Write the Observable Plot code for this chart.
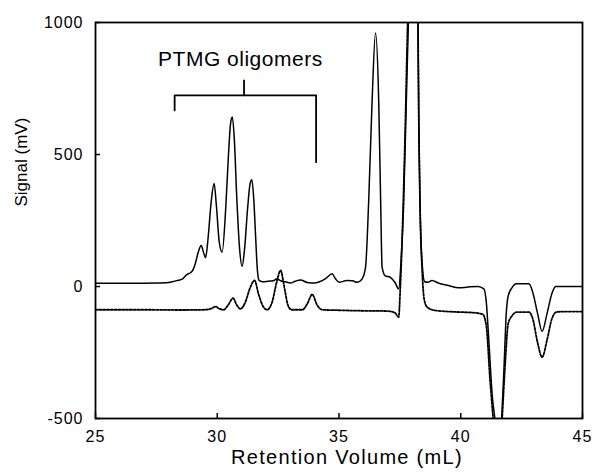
<!DOCTYPE html>
<html>
<head>
<meta charset="utf-8">
<script src="https://cdn.jsdelivr.net/npm/d3@7"></script>
<script src="https://cdn.jsdelivr.net/npm/@observablehq/plot@0.6"></script>
<style>
  html, body { margin: 0; padding: 0; background: white; }
</style>
</head>
<body>
<div id="chart"></div>
<script>
// ---- Data ----
const solidX = [25, 26.5, 27.5, 28.0, 28.2, 28.4, 28.56, 28.75, 28.9, 29.0, 29.1, 29.22, 29.34, 29.45, 29.52, 29.62, 29.75, 29.87, 29.97, 30.08, 30.2, 30.35, 30.45, 30.55, 30.62, 30.7, 30.8, 30.92, 31.02, 31.12, 31.25, 31.35, 31.42, 31.5, 31.57, 31.65, 31.72, 31.85, 32.1, 32.3, 32.45, 32.6, 32.8, 33.0, 33.2, 33.42, 33.7, 33.97, 34.2, 34.45, 34.72, 34.85, 35.0, 35.33, 35.55, 35.74, 35.95, 36.09, 36.22, 36.36, 36.5, 36.63, 36.71, 36.77, 36.9, 37.1, 37.3, 37.45, 37.55, 37.65, 37.75, 37.85, 38.05, 38.24, 38.28, 38.33, 38.42, 38.52, 38.65, 38.82, 39.1, 39.5, 39.9, 40.3, 40.7, 40.95, 41.05, 41.15, 41.3, 41.4, 41.55, 41.68, 41.78, 41.87, 41.95, 42.1, 42.3, 42.8, 42.95, 43.15, 43.34, 43.55, 43.75, 43.9, 44.5, 45];
const solidY = [12, 12, 13, 15, 19, 24, 28, 45, 52, 62, 87, 130, 155, 125, 109, 180, 320, 390, 300, 170, 130, 300, 480, 620, 642, 560, 340, 140, 76, 140, 300, 390, 404, 330, 200, 60, 23, 18, 20, 22, 29, 22, 18, 13, 20, 25, 15, 13, 18, 30, 48, 30, 16, 23, 22, 16, 29, 73, 326, 705, 960, 705, 326, 73, 40, 35, 15, -9, 100, 300, 650, 1000, 1400, 1000, 600, 300, 80, 18, 16, 23, 12, 4, -5, -2, 0, -9, -60, -200, -420, -500, -650, -500, -300, -100, -35, -5, 10, 10, -20, -100, -170, -100, -25, 0, 0, 0];

const dottedX = [25, 27, 28.5, 29.5, 29.75, 29.93, 30.08, 30.26, 30.45, 30.65, 30.8, 30.95, 31.15, 31.35, 31.53, 31.7, 31.88, 32.05, 32.25, 32.45, 32.6, 32.75, 32.9, 33.05, 33.5, 33.7, 33.9, 34.1, 34.3, 35.0, 36.0, 37.0, 37.3, 37.45, 37.52, 37.62, 37.72, 37.82, 38.03, 38.24, 38.28, 38.33, 38.42, 38.5, 38.62, 38.9, 39.5, 40.0, 40.5, 40.9, 41.05, 41.2, 41.35, 41.55, 41.7, 41.82, 41.95, 42.1, 42.3, 42.8, 42.95, 43.15, 43.34, 43.55, 43.75, 43.95, 44.5, 45];
const dottedY = [-88, -88, -89, -88, -84, -76, -84, -88, -70, -44, -70, -85, -60, -5, 23, -30, -75, -88, -60, 20, 61, 0, -70, -88, -88, -65, -30, -70, -88, -90, -92, -93, -100, -116, 0, 260, 600, 1000, 1400, 1000, 600, 300, 50, -50, -78, -90, -95, -97, -99, -105, -150, -350, -520, -700, -500, -300, -140, -112, -97, -97, -120, -210, -268, -200, -120, -96, -95, -95];

const xTicks = [25, 30, 35, 40, 45];
const xTickLabels = ["25", "30", "35", "40", "45"];
const yTicks = [-500, 0, 500, 1000];
const yTickLabels = ["-500", "0", "500", "1000"];

const xTitle = "Retention Volume (mL)";
const yTitle = "Signal (mV)";
const annotationText = "PTMG oligomers";
const annotationX = 30.95;
const annotationY = 834;
// bracket under the annotation (data units)
const bracketX = [28.25, 28.25, 34.06, 34.06];
const bracketY = [667, 724, 724, 471];
const bracketTickX = [31.1, 31.1];
const bracketTickY = [724, 781];

// ---- Build tables ----
const solid = solidX.map((x, i) => ({x, y: solidY[i]}));
const dotted = dottedX.map((x, i) => ({x, y: dottedY[i]}));
const bracket = bracketX.map((x, i) => ({x, y: bracketY[i]}));
const bracketTick = bracketTickX.map((x, i) => ({x, y: bracketTickY[i]}));

const chart = Plot.plot({
  width: 595,
  height: 476,
  marginLeft: 95,
  marginRight: 13,
  marginTop: 22,
  marginBottom: 58,
  style: {fontFamily: "'Liberation Sans', Arial, Helvetica, sans-serif", background: "white", color: "black"},
  x: {domain: [25, 45]},
  y: {domain: [-500, 1000]},
  marks: [
    Plot.axisX({ticks: xTicks, tickFormat: (d, i) => xTickLabels[xTicks.indexOf(d)], tickSize: -5, tickPadding: 17, fontSize: 16, strokeWidth: 1.5, label: null}),
    Plot.axisY({ticks: yTicks, tickFormat: (d) => yTickLabels[yTicks.indexOf(d)], tickSize: -5, tickPadding: 17, fontSize: 16, strokeWidth: 1.5, label: null}),
    Plot.line(dotted, {x: "x", y: "y", curve: "monotone-x", stroke: "black", strokeWidth: 1.8, strokeDasharray: "2.2,1.6", clip: true}),
    Plot.line(solid, {x: "x", y: "y", curve: "monotone-x", stroke: "black", strokeWidth: 1.5, clip: true}),
    Plot.line(bracket, {x: "x", y: "y", stroke: "black", strokeWidth: 1.8}),
    Plot.line(bracketTick, {x: "x", y: "y", stroke: "black", strokeWidth: 1.8}),
    Plot.text([annotationText], {x: annotationX, y: annotationY, text: d => d, fontSize: 21, lineAnchor: "bottom", textAnchor: "middle", fill: "black"}),
    Plot.text([xTitle], {frameAnchor: "bottom", text: d => d, dx: 8, dy: 45.7, fontSize: 20, fill: "black"}),
    Plot.text([yTitle], {frameAnchor: "left", text: d => d, rotate: -90, dx: -73.7, dy: -14, fontSize: 17, fill: "black"}),
    Plot.frame({stroke: "black", strokeWidth: 1.8})
  ]
});

// letter spacing to match the wider scanned type
d3.select(chart).selectAll("text").each(function() {
  const t = this.textContent;
  if (t === xTitle) this.setAttribute("letter-spacing", "1.3");
  else if (t === annotationText) this.setAttribute("letter-spacing", "0.5");
  else if (xTickLabels.includes(t) || yTickLabels.includes(t)) this.setAttribute("letter-spacing", "1");
});

document.getElementById("chart").appendChild(chart);
</script>
</body>
</html>
